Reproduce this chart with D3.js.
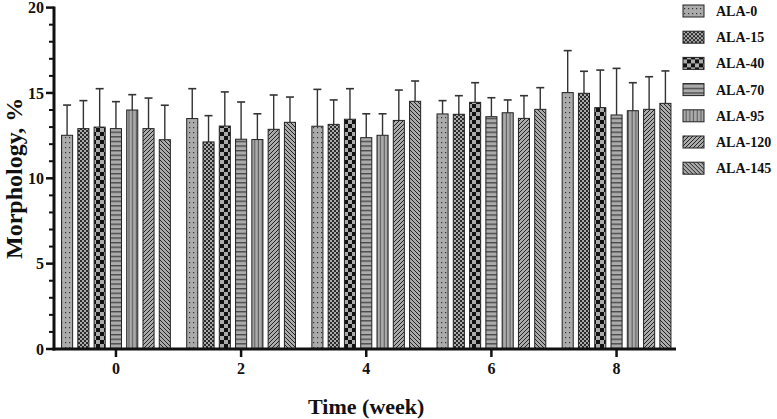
<!DOCTYPE html>
<html><head><meta charset="utf-8">
<script src="https://cdn.jsdelivr.net/npm/d3@7"></script>
<style>body{margin:0;background:#fff}svg{display:block}text{font-family:"Liberation Serif","Times New Roman",serif;font-weight:bold;fill:#111}</style>
</head><body><svg id="c" width="777" height="419"></svg>
<script>
const weeks = [0, 2, 4, 6, 8];
const series = ["ALA-0","ALA-15","ALA-40","ALA-70","ALA-95","ALA-120","ALA-145"];
const means = {
  "ALA-0":   [12.52, 13.50, 13.05, 13.77, 15.02],
  "ALA-15":  [12.91, 12.13, 13.16, 13.75, 14.98],
  "ALA-40":  [13.00, 13.06, 13.46, 14.45, 14.14],
  "ALA-70":  [12.91, 12.29, 12.38, 13.61, 13.71],
  "ALA-95":  [14.00, 12.27, 12.52, 13.84, 13.96],
  "ALA-120": [12.91, 12.87, 13.39, 13.51, 14.04],
  "ALA-145": [12.26, 13.28, 14.51, 14.04, 14.39]
};
const upper = {
  "ALA-0":   [14.29, 15.25, 15.21, 14.55, 17.48],
  "ALA-15":  [14.55, 13.67, 14.59, 14.84, 16.27],
  "ALA-40":  [15.25, 15.06, 15.25, 15.60, 16.34],
  "ALA-70":  [14.49, 14.47, 13.78, 14.72, 16.44],
  "ALA-95":  [14.90, 13.78, 13.78, 14.59, 15.60],
  "ALA-120": [14.70, 14.88, 15.17, 14.84, 15.95],
  "ALA-145": [14.28, 14.76, 15.70, 15.31, 16.29]
};
const yTicks = [0, 5, 10, 15, 20];

const svg = d3.select("#c");
const base = "#ababab";
const defs = svg.append("defs");
function pat(id, w, h, draw) {
  const p = defs.append("pattern").attr("id", id).attr("patternUnits", "userSpaceOnUse")
    .attr("width", w).attr("height", h);
  p.append("rect").attr("width", w).attr("height", h).attr("fill", base);
  draw(p);
}
pat("p0", 4, 5, p => p.append("rect").attr("x", 1).attr("y", 2).attr("width", 1.2).attr("height", 1.2).attr("fill", "#333"));
pat("p1", 4, 4, p => { p.append("rect").attr("width", 2).attr("height", 2).attr("fill", "#2a2a2a");
  p.append("rect").attr("x", 2).attr("y", 2).attr("width", 2).attr("height", 2).attr("fill", "#2a2a2a"); });
pat("p2", 8, 8, p => { p.append("rect").attr("width", 4).attr("height", 4).attr("fill", "#111");
  p.append("rect").attr("x", 4).attr("y", 4).attr("width", 4).attr("height", 4).attr("fill", "#111"); });
pat("p3", 6, 4.6, p => p.append("rect").attr("y", 3).attr("width", 6).attr("height", 1).attr("fill", "#222"));
pat("p4", 3.7, 6, p => p.append("rect").attr("x", 2.6).attr("width", 1).attr("height", 6).attr("fill", "#555"));
pat("p5", 4, 4, p => p.append("path").attr("d", "M-1,1 L1,-1 M0,4 L4,0 M3,5 L5,3").attr("stroke", "#222").attr("stroke-width", 1));
pat("p6", 4, 4, p => p.append("path").attr("d", "M-1,3 L1,5 M0,0 L4,4 M3,-1 L5,1").attr("stroke", "#222").attr("stroke-width", 1));
const fills = d3.scaleOrdinal().domain(series).range(series.map((s, i) => `url(#p${i})`));

const x = d3.scaleLinear().domain([-0.99, 8.95]).range([54, 676]);
const x1 = d3.scaleBand().domain(series).range([-57, 57]).paddingInner(0.32).paddingOuter(0.16);
const y = d3.scaleLinear().domain([0, 20]).range([349, 7.6]);

const rows = [];
series.forEach(s => weeks.forEach((w, i) => rows.push({s, w, v: means[s][i], u: upper[s][i]})));

const g = svg.append("g");
const cx = d => x(d.w) + x1(d.s) + x1.bandwidth() / 2;
const eb = g.selectAll("g.eb").data(rows).join("g").attr("class", "eb");
eb.append("line").attr("x1", cx).attr("x2", cx)
  .attr("y1", d => y(d.v)).attr("y2", d => y(d.u)).attr("stroke", "#333").attr("stroke-width", 1.4);
eb.append("line").attr("x1", d => cx(d) - 4).attr("x2", d => cx(d) + 4)
  .attr("y1", d => y(d.u)).attr("y2", d => y(d.u)).attr("stroke", "#333").attr("stroke-width", 1.6);
g.selectAll("rect.bar").data(rows).join("rect").attr("class", "bar")
  .attr("x", d => x(d.w) + x1(d.s)).attr("width", x1.bandwidth())
  .attr("y", d => y(d.v)).attr("height", d => y(0) - y(d.v))
  .attr("fill", d => fills(d.s)).attr("stroke", "#222").attr("stroke-width", 1);

// y axis
const yAxis = svg.append("g").attr("transform", `translate(${x.range()[0]},0)`);
yAxis.append("line").attr("x1", 0).attr("x2", 0).attr("y1", y(20) - 1).attr("y2", y(0) + 1.5).attr("stroke", "#111").attr("stroke-width", 3);
yAxis.selectAll("line.minor").data(d3.range(0, 21)).join("line").attr("class", "minor")
  .attr("x1", d => yTicks.includes(d) ? -8 : -5).attr("x2", 0).attr("y1", d => y(d)).attr("y2", d => y(d))
  .attr("stroke", "#111").attr("stroke-width", d => yTicks.includes(d) ? 2.5 : 2);
yAxis.selectAll("text").data(yTicks).join("text").attr("x", -10).attr("y", d => y(d)).attr("dy", "0.35em")
  .attr("text-anchor", "end").attr("font-size", 16).text(d => d);

// x axis
const xAxis = svg.append("g").attr("transform", `translate(0,${y(0)})`);
xAxis.append("line").attr("x1", x.range()[0] - 1.5).attr("x2", x.range()[1]).attr("stroke", "#111").attr("stroke-width", 3);
xAxis.selectAll("line.t").data(weeks).join("line").attr("class", "t").attr("x1", d => x(d)).attr("x2", d => x(d))
  .attr("y1", 0).attr("y2", 8).attr("stroke", "#111").attr("stroke-width", 2.5);
xAxis.selectAll("text").data(weeks).join("text").attr("x", d => x(d)).attr("y", 25)
  .attr("text-anchor", "middle").attr("font-size", 16).text(d => d);

svg.append("text").attr("x", x(4)).attr("y", 414).attr("text-anchor", "middle").attr("font-size", 22).text("Time (week)");
svg.append("text").attr("transform", `translate(22,${y(10)}) rotate(-90)`).attr("text-anchor", "middle")
  .attr("font-size", 24).text("Morphology, %");

// legend
const lg = svg.append("g").selectAll("g").data(series).join("g")
  .attr("transform", (d, i) => `translate(683,${11 + i * 26.2})`);
lg.append("rect").attr("x", 0).attr("y", -6).attr("width", 21).attr("height", 12)
  .attr("fill", d => fills(d)).attr("stroke", "#222").attr("stroke-width", 1);
lg.append("text").attr("x", 33).attr("dy", "0.35em").attr("font-size", 14).text(d => d);
</script></body></html>
